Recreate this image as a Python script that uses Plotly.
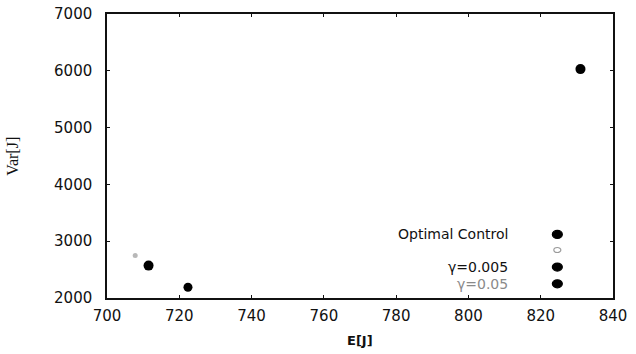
import plotly.graph_objects as go

# ---- data ----
series_names = ["Optimal Control", "", "γ=0.005", "γ=0.05"]
E_values = [831.0, 707.8, 711.5, 722.4]
Var_values = [6030, 2750, 2570, 2190]
marker_colors = ["#000000", "#b8b8b8", "#000000", "#000000"]
marker_sizes = [10, 5, 10, 9]
legend_text_colors = ["#111111", "#111111", "#111111", "#8a8a8a"]

x_ticks = [700, 720, 740, 760, 780, 800, 820, 840]
y_ticks = [2000, 3000, 4000, 5000, 6000, 7000]

fig = go.Figure()
for name, ex, vy, c, s in zip(series_names, E_values, Var_values, marker_colors, marker_sizes):
    fig.add_trace(go.Scatter(
        x=[ex], y=[vy], mode="markers", name=name, showlegend=False,
        marker=dict(color=c, size=s, line=dict(width=0)),
    ))

# custom legend: text on the left, glyph on the right (paper coordinates)
leg_text_x = 0.797
leg_mark_x = 0.890
leg_rows_y = [0.224, 0.169, 0.109, 0.050]
leg_sizes = [9, 6, 9, 9]
annotations = []
shapes = []
for name, ry, tc, c, s in zip(series_names, leg_rows_y, legend_text_colors, marker_colors, leg_sizes):
    if name:
        annotations.append(dict(
            x=leg_text_x, y=ry, xref="paper", yref="paper", text=name,
            showarrow=False, xanchor="right", yanchor="middle",
            font=dict(family="DejaVu Sans", size=14, color=tc),
        ))
    fill = c if c == "#000000" else "rgba(0,0,0,0)"
    line_c = c if c == "#000000" else "#9a9a9a"
    shapes.append(dict(
        type="circle", xref="paper", yref="paper",
        xsizemode="pixel", ysizemode="pixel",
        xanchor=leg_mark_x, yanchor=ry,
        x0=-s / 2 - 0.5, x1=s / 2 + 0.5, y0=-s / 2 + 0.5, y1=s / 2 - 0.5,
        fillcolor=fill, line=dict(color=line_c, width=1.2),
    ))

# axis titles
annotations.append(dict(
    x=-0.188, y=0.5, xref="paper", yref="paper", text="Var[J]", textangle=-90,
    showarrow=False, xanchor="center", yanchor="middle",
    font=dict(family="Liberation Serif", size=16, color="#111111"),
))
annotations.append(dict(
    x=0.5, y=-0.148, xref="paper", yref="paper", text="<b>E[J]</b>",
    showarrow=False, xanchor="center", yanchor="middle",
    font=dict(family="DejaVu Sans", size=13, color="#111111"),
))

axis_common = dict(
    showgrid=False, zeroline=False, showline=True, linecolor="#111111", linewidth=1.5,
    mirror="allticks", ticks="inside", ticklen=3, tickcolor="#111111",
    tickfont=dict(family="DejaVu Sans", size=15, color="#111111"),
    automargin=False,
)

fig.update_layout(
    width=636, height=354,
    margin=dict(l=107, r=23, t=14, b=56, autoexpand=False),
    paper_bgcolor="white", plot_bgcolor="white",
    xaxis=dict(range=[700, 840], tickvals=x_ticks, ticklabelstandoff=3, **axis_common),
    yaxis=dict(range=[2000, 7000], tickvals=y_ticks, ticklabelstandoff=10, **axis_common),
    annotations=annotations, shapes=shapes,
)

fig.write_html("out.html")
